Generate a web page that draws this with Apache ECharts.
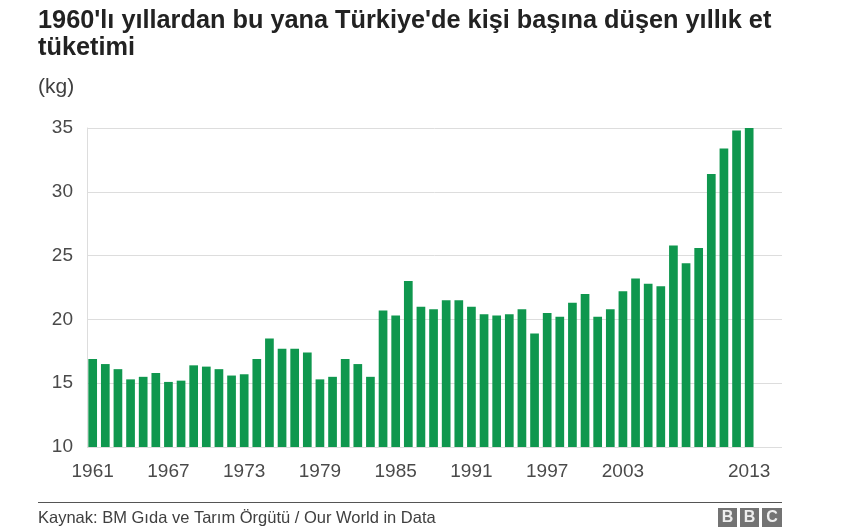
<!DOCTYPE html>
<html>
<head>
<meta charset="utf-8">
<script src="https://cdn.jsdelivr.net/npm/echarts@6/dist/echarts.min.js"></script>
<style>
html,body{margin:0;padding:0;background:#fff;}
#chart{width:860px;height:530px;}
</style>
</head>
<body>
<div id="chart"></div>
<script>
const years = [];
for (let y = 1961; y <= 2013; y++) years.push(y);
const values = [
  16.9, 16.5, 16.1, 15.3, 15.5, 15.8, 15.1, 15.2, 16.4, 16.3,
  16.1, 15.6, 15.7, 16.9, 18.5, 17.7, 17.7, 17.4, 15.3, 15.5,
  16.9, 16.5, 15.5, 20.7, 20.3, 23.0, 21.0, 20.8, 21.5, 21.5,
  21.0, 20.4, 20.3, 20.4, 20.8, 18.9, 20.5, 20.2, 21.3, 22.0,
  20.2, 20.8, 22.2, 23.2, 22.8, 22.6, 25.8, 24.4, 25.6, 31.4,
  33.4, 34.8, 35.2
];
const xTickLabels = [1961, 1967, 1973, 1979, 1985, 1991, 1997, 2003, 2013];
const yTicks = [10, 15, 20, 25, 30, 35];

const titleText = "1960'lı yıllardan bu yana Türkiye'de kişi başına düşen yıllık et\ntüketimi";
const unitText = "(kg)";
const sourceText = "Kaynak: BM Gıda ve Tarım Örgütü / Our World in Data";

const chart = echarts.init(document.getElementById('chart'), null, {renderer: 'canvas'});
const FONT = '"Liberation Sans", Arial, Helvetica, sans-serif';

chart.setOption({
  animation: false,
  backgroundColor: '#ffffff',
  textStyle: {fontFamily: FONT},
  title: [{
    text: titleText,
    left: 38, top: 8, padding: 0,
    textStyle: {fontFamily: FONT, fontSize: 25.3, fontWeight: 'bold', color: '#222222', lineHeight: 27}
  }, {
    text: unitText,
    left: 38, top: 76, padding: 0,
    textStyle: {fontFamily: FONT, fontSize: 21, fontWeight: 'normal', color: '#404040', lineHeight: 22}
  }],
  grid: {left: 87, right: 78, top: 128, bottom: 83, containLabel: false},
  xAxis: {
    type: 'value',
    min: 1960.55,
    max: 2015.6,
    axisLine: {show: false},
    axisTick: {show: false},
    splitLine: {show: false},
    axisLabel: {
      customValues: xTickLabels,
      fontFamily: FONT, fontSize: 19, color: '#4a4a4a', margin: 15,
      formatter: v => String(v)
    }
  },
  yAxis: {
    type: 'value',
    min: yTicks[0], max: yTicks[yTicks.length - 1], interval: 5,
    axisLine: {show: true, lineStyle: {color: '#dddddd', width: 1}},
    axisTick: {show: false},
    splitLine: {show: true, lineStyle: {color: '#dddddd', width: 1}},
    axisLabel: {fontFamily: FONT, fontSize: 19, color: '#4a4a4a', margin: 14}
  },
  series: [{
    type: 'bar',
    barWidth: 8.7,
    itemStyle: {color: '#0f974e'},
    data: years.map((y, i) => [y, values[i]])
  }],
  graphic: [
    {type: 'line', shape: {x1: 38, y1: 502.5, x2: 782, y2: 502.5}, style: {stroke: '#555555', lineWidth: 1}},
    {type: 'text', left: 38, top: 510, style: {text: sourceText, font: '16.5px ' + FONT, fill: '#404040'}},
    {type: 'rect', shape: {x: 718, y: 508, width: 19, height: 19}, style: {fill: '#737373'}},
    {type: 'rect', shape: {x: 740, y: 508, width: 19, height: 19}, style: {fill: '#737373'}},
    {type: 'rect', shape: {x: 762, y: 508, width: 20, height: 19}, style: {fill: '#737373'}},
    {type: 'text', x: 727.5, y: 518, style: {text: 'B', font: 'bold 16px ' + FONT, fill: '#eeeeee', align: 'center', verticalAlign: 'middle'}},
    {type: 'text', x: 749.5, y: 518, style: {text: 'B', font: 'bold 16px ' + FONT, fill: '#eeeeee', align: 'center', verticalAlign: 'middle'}},
    {type: 'text', x: 772, y: 518, style: {text: 'C', font: 'bold 16px ' + FONT, fill: '#eeeeee', align: 'center', verticalAlign: 'middle'}}
  ]
});
</script>
</body>
</html>
